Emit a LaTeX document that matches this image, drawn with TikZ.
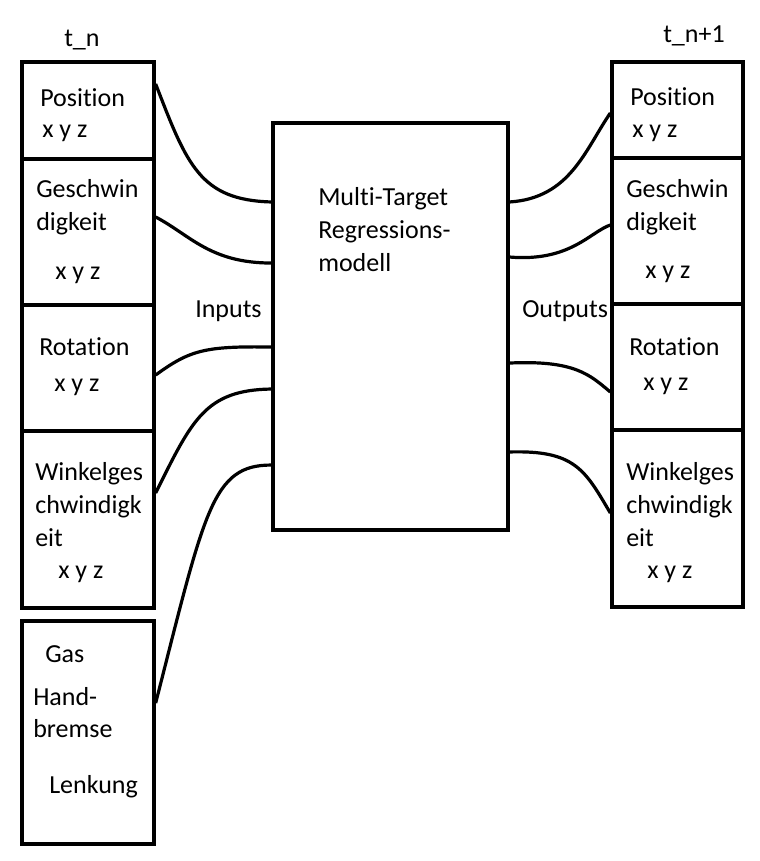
\documentclass[tikz,border=0pt]{standalone}
\usepackage{fontspec}
\setmainfont{Carlito}[RawFeature={-liga;-clig;-calt;-rlig;-dlig}]
\usetikzlibrary{fit}
\newcommand{\nolig}{\kern0pt }
\begin{document}
\begin{tikzpicture}[x=0.75pt,y=-0.75pt,
  box/.style={draw=black,line width=2.5pt,inner sep=0pt,fill=none},
  lbl/.style={anchor=base west,inner sep=0pt,font=\fontsize{19.5}{23}\selectfont},
  wire/.style={draw=black,line width=2.4pt}]
\useasboundingbox[fill=white] (0,0) rectangle (760,861);
% left column
\node[box,fit={(22,62) (154,159)}] (lpos) {};
\node[box,fit={(22,159) (154,305)}] (lvel) {};
\node[box,fit={(22,305) (154,431)}] (lrot) {};
\node[box,fit={(22,431) (154,608)}] (lang) {};
\node[box,fit={(22,621) (154,844)}] (lctl) {};
% model
\node[box,fit={(273,123) (508,530)}] (model) {};
% right column
\node[box,fit={(612,62) (743,158)}] (rpos) {};
\node[box,fit={(612,158) (743,304)}] (rvel) {};
\node[box,fit={(612,304) (743,430)}] (rrot) {};
\node[box,fit={(612,430) (743,607)}] (rang) {};
% labels
\node[lbl] (tn) at (64,46) {t\_n};
\node[lbl] (tn1) at (663,42) {t\_n+1};
\node[lbl] (l1a) at (40,106) {Posi\nolig tion};
\node[lbl] (l1b) at (42,137) {x y z};
\node[lbl] (l2a) at (36,197) {Geschwin};
\node[lbl] (l2b) at (36,230) {digkeit};
\node[lbl] (l2c) at (55,279) {x y z};
\node[lbl] (inp) at (195,317) {Inputs};
\node[lbl] (l3a) at (39,355) {Rota\nolig tion};
\node[lbl] (l3b) at (54,391) {x y z};
\node[lbl] (l4a) at (35,480) {Winkelges};
\node[lbl] (l4b) at (35,513) {chwindigk};
\node[lbl] (l4c) at (35,546) {eit};
\node[lbl] (l4d) at (58,578) {x y z};
\node[lbl] (l5a) at (45,662) {Gas};
\node[lbl] (l5b) at (33,705) {Hand-};
\node[lbl] (l5c) at (33,737) {bremse};
\node[lbl] (l5d) at (49,793) {Lenkung};
\node[lbl] (m1) at (318,205) {Multi-Target};
\node[lbl] (m2) at (318,238) {Regressions-};
\node[lbl] (m3) at (318,271) {modell};
\node[lbl] (outp) at (522,317) {Outputs};
\node[lbl] (r1a) at (630,105) {Posi\nolig tion};
\node[lbl] (r1b) at (632,137) {x y z};
\node[lbl] (r2a) at (626,197) {Geschwin};
\node[lbl] (r2b) at (626,230) {digkeit};
\node[lbl] (r2c) at (645,278) {x y z};
\node[lbl] (r3a) at (629,355) {Rota\nolig tion};
\node[lbl] (r3b) at (643,390) {x y z};
\node[lbl] (r4a) at (626,480) {Winkelges};
\node[lbl] (r4b) at (626,513) {chwindigk};
\node[lbl] (r4c) at (626,546) {eit};
\node[lbl] (r4d) at (647,578) {x y z};
% input connectors
\draw[wire] ([yshift=19.9pt]lpos.east) .. controls (187,165) and (200,200) .. ([yshift=93.4pt]model.west);
\draw[wire] ([yshift=11.25pt]lvel.east) .. controls (190,235) and (210,263) .. ([yshift=47.6pt]model.west);
\draw[wire] ([yshift=-5.25pt]lrot.east) .. controls (190,350) and (205,346) .. ([yshift=-15.4pt]model.west);
\draw[wire] ([yshift=19.9pt]lang.east) .. controls (192,420) and (205,390) .. ([yshift=-46.9pt]model.west);
\draw[wire] ([yshift=22.1pt]lctl.east) .. controls (205,510) and (212,465) .. ([yshift=-103.9pt]model.west);
% output connectors
\draw[wire] ([yshift=93.4pt]model.east) .. controls (570,198) and (585,150) .. ([yshift=-2.25pt]rpos.west);
\draw[wire] ([yshift=52.1pt]model.east) .. controls (570,262) and (590,232) .. ([yshift=4.5pt]rvel.west);
\draw[wire] ([yshift=-27.4pt]model.east) .. controls (575,360) and (590,375) .. ([yshift=-18.75pt]rrot.west);
\draw[wire] ([yshift=-94.1pt]model.east) .. controls (575,450) and (585,470) .. ([yshift=4.1pt]rang.west);
\end{tikzpicture}
\end{document}
